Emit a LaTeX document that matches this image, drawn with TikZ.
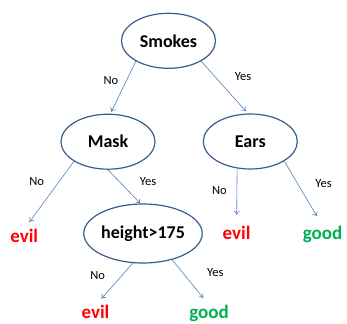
\documentclass[tikz,border=0pt]{standalone}
\usepackage{fontspec}
\setmainfont{Carlito}
\usetikzlibrary{shapes.geometric,arrows.meta}
\definecolor{ellblue}{RGB}{56,93,138}
\definecolor{arrblue}{RGB}{79,129,189}
\definecolor{evilred}{RGB}{255,0,0}
\definecolor{goodgreen}{RGB}{0,176,80}

\begin{document}
\begin{tikzpicture}[x=1pt,y=1pt,yscale=-1,
  test/.style={ellipse,draw=ellblue,line width=1.2pt,minimum width=94pt,minimum height=55pt,inner sep=0pt,font=\fontsize{18}{20}\selectfont\bfseries},
  leaf/.style={anchor=base,inner sep=0pt,font=\fontsize{19}{22}\selectfont\bfseries},
  branch/.style={draw=arrblue,line width=0.6pt,-{To[length=4pt,width=6pt]}},
  answer/.style={font=\fontsize{12.5}{14}\selectfont}]
\useasboundingbox (0,0) rectangle (347,323);

% Text Node
\node[test] (smokes) at (168.5,40.8) {Smokes};
% Text Node
\node[test] (mask) at (108,141.7) {Mask};
% Text Node
\node[test] (ears) at (250.3,141.5) {Ears};
% Text Node
\node[test,minimum width=93pt,minimum height=59pt] (height) at (143,233.5) {height>175};

% Text Node
\node[leaf,text=evilred] (evilA) at (24.2,242.7) {evil};
% Text Node
\node[leaf,text=evilred] (evilB) at (236.5,239.3) {evil};
% Text Node
\node[leaf,text=goodgreen] (goodA) at (322.5,239.3) {good};
% Text Node
\node[leaf,text=evilred] (evilC) at (95.5,318.8) {evil};
% Text Node
\node[leaf,text=goodgreen] (goodB) at (209,318.5) {good};

% Text Node
\node[answer] (noSmokes) at (111,80.5) {No};
% Text Node
\node[answer] (yesSmokes) at (243,77) {Yes};
% Text Node
\node[answer] (noMask) at (36.7,181.5) {No};
% Text Node
\node[answer] (yesMask) at (148,181.5) {Yes};
% Text Node
\node[answer] (noEars) at (219.5,190.5) {No};
% Text Node
\node[answer] (yesEars) at (323.5,184) {Yes};
% Text Node
\node[answer] (noHeight) at (97.7,275.5) {No};
% Text Node
\node[answer] (yesHeight) at (215.3,272.5) {Yes};

% Connection
\draw[branch,shorten >=2pt] (smokes.212) -- (mask.85);
% Connection
\draw[branch,shorten >=3pt] (smokes.328) -- (ears.95);
% Connection
\draw[branch,shorten >=9pt] (mask.210) -- (evilA.north);
% Connection
\draw[branch] (mask.south) -- (height.95);
% Connection
\draw[branch,shorten >=11pt] (ears.244) -- (evilB.north);
% Connection
\draw[branch,shorten >=11pt] (ears.330) -- (goodA.north);
% Connection
\draw[branch,shorten >=9pt] (height.251) -- (evilC.north);
% Connection
\draw[branch,shorten >=9pt] (height.318) -- (goodB.north);

\end{tikzpicture}
\end{document}
